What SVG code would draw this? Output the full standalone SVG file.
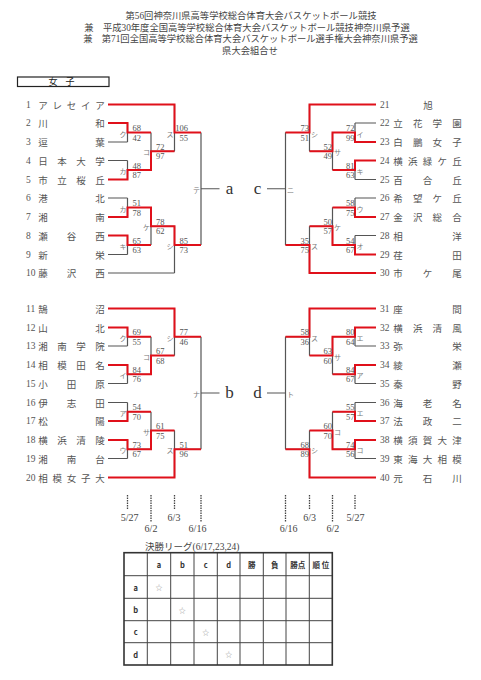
<svg xmlns="http://www.w3.org/2000/svg" width="481" height="680" viewBox="0 0 481 680">
<style>
.g{fill:none;stroke:#555;stroke-width:1.2}
.r{fill:none;stroke:#e0101a;stroke-width:2}
.dash{fill:none;stroke:#444;stroke-width:1.3;stroke-dasharray:1.5 1}
.nm{font-family:"Noto Sans CJK JP",sans-serif;font-size:9.5px;fill:#555;text-anchor:middle;dominant-baseline:central}
.no{font-family:"Liberation Serif",serif;font-size:9.5px;fill:#555;dominant-baseline:central}
.sc{font-family:"Liberation Serif",serif;font-size:8.5px;fill:#555;text-anchor:end;dominant-baseline:central}
.lb{font-family:"Noto Sans CJK JP",sans-serif;font-size:7px;fill:#777;text-anchor:middle;dominant-baseline:central}
.big{font-family:"Liberation Serif",serif;font-size:17px;fill:#333;text-anchor:middle;dominant-baseline:central}
.tt{font-family:"Liberation Serif","Noto Sans CJK JP",serif;font-size:9.3px;fill:#444;text-anchor:middle;dominant-baseline:central}
.dt{font-family:"Liberation Serif",serif;font-size:10px;fill:#444;text-anchor:middle;dominant-baseline:central}
.th{font-family:"Noto Sans CJK JP",sans-serif;font-size:7.5px;font-weight:bold;fill:#333;text-anchor:middle;dominant-baseline:central}
.st{font-family:"Noto Sans CJK JP",sans-serif;font-size:7px;fill:#999;text-anchor:middle;dominant-baseline:central}
.tin{fill:none;stroke:#444;stroke-width:1}
</style>
<rect width="481" height="680" fill="#fff"/>
<g id="title">
<text class="tt" x="251" y="16">第56回神奈川県高等学校総合体育大会バスケットボール競技</text>
<text class="tt" x="247" y="27.5">兼　平成30年度全国高等学校総合体育大会バスケットボール競技神奈川県予選</text>
<text class="tt" x="250.5" y="39">兼　第71回全国高等学校総合体育大会バスケットボール選手権大会神奈川県予選</text>
<text class="tt" x="250" y="50.5">県大会組合せ</text>
</g>
<g id="girls-box">
<rect x="17.5" y="77" width="91.5" height="9.5" fill="none" stroke="#222" stroke-width="1.2"/>
<text class="nm" x="53 70" y="81.8" style="font-size:9px;fill:#222">女子</text>
</g>
<g id="connectors">
<path class="g" d="M108 104.5H174.5M108 123H127.5M108 142H127.5M127.5 123V142M108 160.5H127.5M108 179.5H127.5M127.5 160.5V179.5M108 198H127.5M108 217H127.5M127.5 198V217M108 235.5H127.5M108 254.5H127.5M127.5 235.5V254.5M108 273H174.5M127.5 132.5H151M127.5 170H151M127.5 207.5H151M127.5 245H151M151 132.5V170M151 207.5V245M151 151.25H174.5M151 226.25H174.5M174.5 104.5V151.25M174.5 226.25V273M174.5 132.5H201M174.5 245H201M201 132.5V245M201 188.75H219.5"/>
<path class="g" d="M108 308.5H174.5M108 327.5H127.5M108 346H127.5M127.5 327.5V346M108 365H127.5M108 383.5H127.5M127.5 365V383.5M108 402.5H127.5M108 421H127.5M127.5 402.5V421M108 440H127.5M108 458.5H127.5M127.5 440V458.5M108 477.5H174.5M127.5 336.75H151M127.5 374.25H151M127.5 411.75H151M127.5 449.25H151M151 336.75V374.25M151 411.75V449.25M151 355.5H174.5M151 430.5H174.5M174.5 308.5V355.5M174.5 430.5V477.5M174.5 336.75H201M174.5 449.25H201M201 336.75V449.25M201 393H219.5"/>
<path class="g" d="M376 104.5H309.5M376 123H355M376 142H355M355 123V142M376 160.5H355M376 179.5H355M355 160.5V179.5M376 198H355M376 217H355M355 198V217M376 235.5H355M376 254.5H355M355 235.5V254.5M376 273H309.5M355 132.5H332.5M355 170H332.5M355 207.5H332.5M355 245H332.5M332.5 132.5V170M332.5 207.5V245M332.5 151.25H309.5M332.5 226.25H309.5M309.5 104.5V151.25M309.5 226.25V273M309.5 132.5H285.5M309.5 245H285.5M285.5 132.5V245M285.5 188.75H267"/>
<path class="g" d="M376 308.5H309.5M376 327.5H355M376 346H355M355 327.5V346M376 365H355M376 383.5H355M355 365V383.5M376 402.5H355M376 421H355M355 402.5V421M376 440H355M376 458.5H355M355 440V458.5M376 477.5H309.5M355 336.75H332.5M355 374.25H332.5M355 411.75H332.5M355 449.25H332.5M332.5 336.75V374.25M332.5 411.75V449.25M332.5 355.5H309.5M332.5 430.5H309.5M309.5 308.5V355.5M309.5 430.5V477.5M309.5 336.75H285.5M309.5 449.25H285.5M285.5 336.75V449.25M285.5 393H267"/>
<path class="r" d="M108 104.5H174.5V132.5H201M108 123H127.5V132.5H151M108 179.5H127.5V170H151V151.25H174.5M108 217H127.5V207.5H151V226.25H174.5V245H201M108 235.5H127.5V245H151"/>
<path class="r" d="M108 308.5H174.5V336.75H201M108 327.5H127.5V336.75H151M108 365H127.5V374.25H151V355.5H174.5M108 421H127.5V411.75H151M108 440H127.5V449.25H151V430.5H174.5M108 477.5H174.5V449.25H201"/>
<path class="r" d="M376 104.5H309.5V132.5H285.5M376 142H355V132.5H332.5V151.25H309.5M376 160.5H355V170H332.5M376 217H355V207.5H332.5M376 254.5H355V245H332.5V226.25H309.5M376 273H309.5V245H285.5"/>
<path class="r" d="M376 308.5H309.5V336.75H285.5M376 327.5H355V336.75H332.5V355.5H309.5M376 365H355V374.25H332.5M376 421H355V411.75H332.5M376 440H355V449.25H332.5V430.5H309.5M376 477.5H309.5V449.25H285.5"/>
<path class="dash" d="M127.5 495V509.5M151 495V521.5M174.5 495V509.5M201 495V521.5M285.5 495V521.5M309.5 495V509.5M332.5 495V521.5M355 495V509.5"/>
</g>
<g id="teams-left">
<g id="t1"><text class="no" x="26" y="104.5">1</text><text class="nm" x="43 57.25 71.5 85.75 100" y="104.5">アレセイア</text></g>
<g id="t2"><text class="no" x="26" y="123">2</text><text class="nm" x="43 100" y="123">川和</text></g>
<g id="t3"><text class="no" x="26" y="142">3</text><text class="nm" x="43 100" y="142">逗葉</text></g>
<g id="t4"><text class="no" x="26" y="160.5">4</text><text class="nm" x="43 62 81 100" y="160.5">日本大学</text></g>
<g id="t5"><text class="no" x="26" y="179.5">5</text><text class="nm" x="43 62 81 100" y="179.5">市立桜丘</text></g>
<g id="t6"><text class="no" x="26" y="198">6</text><text class="nm" x="43 100" y="198">港北</text></g>
<g id="t7"><text class="no" x="26" y="217">7</text><text class="nm" x="43 100" y="217">湘南</text></g>
<g id="t8"><text class="no" x="26" y="235.5">8</text><text class="nm" x="43 71.5 100" y="235.5">瀬谷西</text></g>
<g id="t9"><text class="no" x="26" y="254.5">9</text><text class="nm" x="43 100" y="254.5">新栄</text></g>
<g id="t10"><text class="no" x="26" y="273">10</text><text class="nm" x="43 71.5 100" y="273">藤沢西</text></g>
<g id="t11"><text class="no" x="26" y="308.5">11</text><text class="nm" x="43 100" y="308.5">鵠沼</text></g>
<g id="t12"><text class="no" x="26" y="327.5">12</text><text class="nm" x="43 100" y="327.5">山北</text></g>
<g id="t13"><text class="no" x="26" y="346">13</text><text class="nm" x="43 62 81 100" y="346">湘南学院</text></g>
<g id="t14"><text class="no" x="26" y="365">14</text><text class="nm" x="43 62 81 100" y="365">相模田名</text></g>
<g id="t15"><text class="no" x="26" y="383.5">15</text><text class="nm" x="43 71.5 100" y="383.5">小田原</text></g>
<g id="t16"><text class="no" x="26" y="402.5">16</text><text class="nm" x="43 71.5 100" y="402.5">伊志田</text></g>
<g id="t17"><text class="no" x="26" y="421">17</text><text class="nm" x="43 100" y="421">松陽</text></g>
<g id="t18"><text class="no" x="26" y="440">18</text><text class="nm" x="43 62 81 100" y="440">横浜清陵</text></g>
<g id="t19"><text class="no" x="26" y="458.5">19</text><text class="nm" x="43 71.5 100" y="458.5">湘南台</text></g>
<g id="t20"><text class="no" x="26" y="477.5">20</text><text class="nm" x="43 57.25 71.5 85.75 100" y="477.5">相模女子大</text></g>
</g>
<g id="teams-right">
<g id="t21"><text class="no" x="380" y="104.5">21</text><text class="nm" x="428" y="104.5">旭</text></g>
<g id="t22"><text class="no" x="380" y="123">22</text><text class="nm" x="398 417.7 437.3 457" y="123">立花学園</text></g>
<g id="t23"><text class="no" x="380" y="142">23</text><text class="nm" x="398 417.7 437.3 457" y="142">白鵬女子</text></g>
<g id="t24"><text class="no" x="380" y="160.5">24</text><text class="nm" x="398 412.75 427.5 442.25 457" y="160.5">横浜緑ケ丘</text></g>
<g id="t25"><text class="no" x="380" y="179.5">25</text><text class="nm" x="398 427.5 457" y="179.5">百合丘</text></g>
<g id="t26"><text class="no" x="380" y="198">26</text><text class="nm" x="398 417.7 437.3 457" y="198">希望ケ丘</text></g>
<g id="t27"><text class="no" x="380" y="217">27</text><text class="nm" x="398 417.7 437.3 457" y="217">金沢総合</text></g>
<g id="t28"><text class="no" x="380" y="235.5">28</text><text class="nm" x="398 457" y="235.5">相洋</text></g>
<g id="t29"><text class="no" x="380" y="254.5">29</text><text class="nm" x="398 457" y="254.5">荏田</text></g>
<g id="t30"><text class="no" x="380" y="273">30</text><text class="nm" x="398 427.5 457" y="273">市ケ尾</text></g>
<g id="t31"><text class="no" x="380" y="308.5">31</text><text class="nm" x="398 457" y="308.5">座間</text></g>
<g id="t32"><text class="no" x="380" y="327.5">32</text><text class="nm" x="398 417.7 437.3 457" y="327.5">横浜清風</text></g>
<g id="t33"><text class="no" x="380" y="346">33</text><text class="nm" x="398 457" y="346">弥栄</text></g>
<g id="t34"><text class="no" x="380" y="365">34</text><text class="nm" x="398 457" y="365">綾瀬</text></g>
<g id="t35"><text class="no" x="380" y="383.5">35</text><text class="nm" x="398 457" y="383.5">秦野</text></g>
<g id="t36"><text class="no" x="380" y="402.5">36</text><text class="nm" x="398 427.5 457" y="402.5">海老名</text></g>
<g id="t37"><text class="no" x="380" y="421">37</text><text class="nm" x="398 427.5 457" y="421">法政二</text></g>
<g id="t38"><text class="no" x="380" y="440">38</text><text class="nm" x="398 412.75 427.5 442.25 457" y="440">横須賀大津</text></g>
<g id="t39"><text class="no" x="380" y="458.5">39</text><text class="nm" x="398 412.75 427.5 442.25 457" y="458.5">東海大相模</text></g>
<g id="t40"><text class="no" x="380" y="477.5">40</text><text class="nm" x="398 427.5 457" y="477.5">元石川</text></g>
</g>
<g id="matches-left">
<text class="lb" x="123" y="133.5">ク</text><text class="sc" x="141" y="128">68</text><text class="sc" x="141" y="137.5">42</text>
<text class="lb" x="123" y="171">カ</text><text class="sc" x="141" y="165.5">48</text><text class="sc" x="141" y="175">87</text>
<text class="lb" x="146.5" y="152.25">コ</text><text class="sc" x="164.5" y="146.75">72</text><text class="sc" x="164.5" y="156.25">97</text>
<text class="lb" x="170" y="133.5">ス</text><text class="sc" x="188" y="128">106</text><text class="sc" x="188" y="137.5">55</text>
<text class="lb" x="123" y="208.5">カ</text><text class="sc" x="141" y="203">51</text><text class="sc" x="141" y="212.5">78</text>
<text class="lb" x="123" y="246">キ</text><text class="sc" x="141" y="240.5">65</text><text class="sc" x="141" y="250">63</text>
<text class="lb" x="146.5" y="227.25">ケ</text><text class="sc" x="164.5" y="221.75">78</text><text class="sc" x="164.5" y="231.25">62</text>
<text class="lb" x="170" y="246">シ</text><text class="sc" x="188" y="240.5">85</text><text class="sc" x="188" y="250">73</text>
<text class="lb" x="196.5" y="189.75">テ</text>
<text class="lb" x="123" y="337.75">ク</text><text class="sc" x="141" y="332.25">69</text><text class="sc" x="141" y="341.75">55</text>
<text class="lb" x="123" y="375.25">イ</text><text class="sc" x="141" y="369.75">84</text><text class="sc" x="141" y="379.25">76</text>
<text class="lb" x="146.5" y="356.5">コ</text><text class="sc" x="164.5" y="351">67</text><text class="sc" x="164.5" y="360.5">68</text>
<text class="lb" x="170" y="337.75">シ</text><text class="sc" x="188" y="332.25">77</text><text class="sc" x="188" y="341.75">46</text>
<text class="lb" x="123" y="412.75">ア</text><text class="sc" x="141" y="407.25">54</text><text class="sc" x="141" y="416.75">70</text>
<text class="lb" x="123" y="450.25">ウ</text><text class="sc" x="141" y="444.75">73</text><text class="sc" x="141" y="454.25">67</text>
<text class="lb" x="146.5" y="431.5">サ</text><text class="sc" x="164.5" y="426">61</text><text class="sc" x="164.5" y="435.5">75</text>
<text class="lb" x="170" y="450.25">ス</text><text class="sc" x="188" y="444.75">51</text><text class="sc" x="188" y="454.25">96</text>
<text class="lb" x="196.5" y="394">ナ</text>
</g>
<g id="matches-right">
<text class="lb" x="360" y="133.5">イ</text><text class="sc" x="354.5" y="128">72</text><text class="sc" x="354.5" y="137.5">99</text>
<text class="lb" x="360" y="171">キ</text><text class="sc" x="354.5" y="165.5">81</text><text class="sc" x="354.5" y="175">63</text>
<text class="lb" x="337.5" y="152.25">サ</text><text class="sc" x="332" y="146.75">52</text><text class="sc" x="332" y="156.25">49</text>
<text class="lb" x="314.5" y="133.5">シ</text><text class="sc" x="309" y="128">73</text><text class="sc" x="309" y="137.5">51</text>
<text class="lb" x="360" y="208.5">ウ</text><text class="sc" x="354.5" y="203">58</text><text class="sc" x="354.5" y="212.5">75</text>
<text class="lb" x="360" y="246">オ</text><text class="sc" x="354.5" y="240.5">54</text><text class="sc" x="354.5" y="250">67</text>
<text class="lb" x="337.5" y="227.25">ケ</text><text class="sc" x="332" y="221.75">50</text><text class="sc" x="332" y="231.25">57</text>
<text class="lb" x="314.5" y="246">ス</text><text class="sc" x="309" y="240.5">35</text><text class="sc" x="309" y="250">75</text>
<text class="lb" x="290.5" y="189.75">ニ</text>
<text class="lb" x="360" y="337.75">エ</text><text class="sc" x="354.5" y="332.25">80</text><text class="sc" x="354.5" y="341.75">64</text>
<text class="lb" x="360" y="375.25">ア</text><text class="sc" x="354.5" y="369.75">84</text><text class="sc" x="354.5" y="379.25">67</text>
<text class="lb" x="337.5" y="356.5">サ</text><text class="sc" x="332" y="351">63</text><text class="sc" x="332" y="360.5">60</text>
<text class="lb" x="314.5" y="337.75">ス</text><text class="sc" x="309" y="332.25">58</text><text class="sc" x="309" y="341.75">36</text>
<text class="lb" x="360" y="412.75">エ</text><text class="sc" x="354.5" y="407.25">55</text><text class="sc" x="354.5" y="416.75">57</text>
<text class="lb" x="360" y="450.25">コ</text><text class="sc" x="354.5" y="444.75">74</text><text class="sc" x="354.5" y="454.25">56</text>
<text class="lb" x="337.5" y="431.5">コ</text><text class="sc" x="332" y="426">60</text><text class="sc" x="332" y="435.5">70</text>
<text class="lb" x="314.5" y="450.25">シ</text><text class="sc" x="309" y="444.75">68</text><text class="sc" x="309" y="454.25">89</text>
<text class="lb" x="290.5" y="394">ト</text>
</g>
<g id="block-a"><text class="big" x="229.5" y="188">a</text></g>
<g id="block-c"><text class="big" x="257.5" y="188">c</text></g>
<g id="block-b"><text class="big" x="229.5" y="392">b</text></g>
<g id="block-d"><text class="big" x="257.5" y="392">d</text></g>
<g id="dates">
<text class="dt" x="129.7" y="517.7">5/27</text>
<text class="dt" x="151" y="528.3">6/2</text>
<text class="dt" x="174" y="517.7">6/3</text>
<text class="dt" x="197.5" y="528.3">6/16</text>
<text class="dt" x="288.7" y="528.3">6/16</text>
<text class="dt" x="309.7" y="517.7">6/3</text>
<text class="dt" x="332.8" y="528.3">6/2</text>
<text class="dt" x="355.5" y="517.7">5/27</text>
</g>
<g id="league">
<text class="tt" x="145" y="546.5" style="text-anchor:start;font-size:9.5px">決勝リーグ(6/17,23,24)</text>
<path class="tin" d="M147.3 552.7V665M170.7 552.7V665M194 552.7V665M217.3 552.7V665M240 552.7V665M263.3 552.7V665M286 552.7V665M309.3 552.7V665M124 575.7H332.3M124 598.3H332.3M124 620.7H332.3M124 642.7H332.3"/>
<rect x="124" y="552.7" width="208.3" height="112.3" fill="none" stroke="#333" stroke-width="1.6"/>
<text class="th" x="159" y="564.2">a</text>
<text class="th" x="182.3" y="564.2">b</text>
<text class="th" x="205.7" y="564.2">c</text>
<text class="th" x="228.7" y="564.2">d</text>
<text class="th" x="251.7" y="564.2">勝</text>
<text class="th" x="274.7" y="564.2">負</text>
<text class="th" x="297.7" y="564.2">勝点</text>
<text class="th" x="320.8" y="564.2">順 位</text>
<text class="th" x="135.7" y="587">a</text>
<text class="th" x="135.7" y="609.5">b</text>
<text class="th" x="135.7" y="631.7">c</text>
<text class="th" x="135.7" y="654">d</text>
<text class="st" x="159" y="587">☆</text>
<text class="st" x="182.3" y="609.5">☆</text>
<text class="st" x="205.7" y="631.7">☆</text>
<text class="st" x="228.7" y="654">☆</text>
</g>
</svg>
